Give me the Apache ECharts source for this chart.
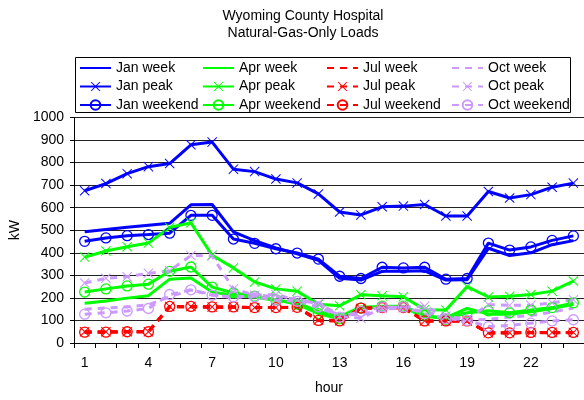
<!DOCTYPE html>
<html>
<head>
<meta charset="utf-8">
<script src="https://cdn.jsdelivr.net/npm/echarts@6/dist/echarts.min.js"></script>
<style>
html,body{margin:0;padding:0;background:#fff;}
#chart{width:584px;height:400px;}
</style>
</head>
<body>
<div id="chart"></div>
<script>
var hours = ['1','2','3','4','5','6','7','8','9','10','11','12','13','14','15','16','17','18','19','20','21','22','23','24'];

var janWeek    = [493, 503, 513, 522, 531, 613, 614, 493, 454, 422, 396, 367, 287, 279, 318, 318, 320, 279, 281, 420, 388, 400, 436, 454];
var janPeak    = [675, 707, 751, 782, 796, 879, 891, 771, 760, 727, 710, 661, 581, 568, 604, 607, 614, 563, 563, 672, 643, 658, 691, 709];
var janWeekend = [451, 466, 476, 481, 487, 566, 566, 461, 442, 418, 399, 372, 296, 286, 336, 333, 336, 283, 286, 443, 412, 426, 455, 475];

var aprWeek    = [176, 186, 199, 210, 283, 288, 226, 211, 204, 188, 178, 140, 117, 160, 160, 158, 116, 113, 153, 128, 128, 138, 153, 172];
var aprPeak    = [381, 408, 427, 443, 512, 533, 389, 333, 271, 240, 230, 172, 165, 214, 209, 205, 148, 146, 250, 204, 207, 215, 230, 275];
var aprWeekend = [226, 240, 253, 261, 318, 337, 248, 222, 208, 192, 172, 130, 107, 155, 163, 163, 124, 105, 134, 143, 134, 146, 157, 178];

var julWeek    = [48, 48, 50, 50, 160, 160, 158, 158, 157, 157, 157, 100, 98, 153, 157, 155, 98, 98, 98, 44, 44, 46, 46, 46];
var julPeak    = [50, 50, 50, 50, 162, 162, 160, 160, 157, 157, 160, 102, 99, 153, 157, 157, 98, 98, 98, 45, 45, 47, 47, 47];
var julWeekend = [48, 48, 50, 50, 162, 162, 160, 160, 157, 157, 158, 100, 98, 155, 157, 157, 98, 98, 98, 45, 45, 47, 47, 47];

var octWeek    = [150, 155, 160, 170, 205, 235, 215, 200, 215, 205, 195, 175, 125, 125, 150, 155, 140, 115, 100, 105, 115, 122, 137, 155];
var octPeak    = [266, 287, 294, 309, 320, 388, 386, 240, 212, 215, 190, 175, 118, 110, 155, 160, 163, 120, 105, 170, 167, 167, 178, 192];
var octWeekend = [128, 134, 142, 153, 215, 236, 212, 204, 205, 190, 185, 160, 115, 140, 160, 160, 130, 108, 100, 73, 78, 88, 98, 103];

var FONT = 'Liberation Sans, Arial, sans-serif';
var XPATH = 'path://M0,0.7 L0.7,0 L5,4.3 L9.3,0 L10,0.7 L5.7,5 L10,9.3 L9.3,10 L5,5.7 L0.7,10 L0,9.3 L4.3,5 Z';

function mk(name, data, color, kind, dashed) {
  var s = {
    name: name,
    type: 'line',
    data: data,
    animation: false,
    lineStyle: { color: color, width: 3, type: dashed ? [7, 6] : 'solid' },
    emphasis: { disabled: true }
  };
  if (kind === 'week') {
    s.symbol = 'none';
    s.showSymbol = false;
    s.itemStyle = { color: color };
  } else if (kind === 'peak') {
    s.symbol = XPATH;
    s.symbolSize = 10;
    s.itemStyle = { color: color };
  } else {
    s.symbol = 'circle';
    s.symbolSize = 10;
    s.itemStyle = { color: 'rgba(0,0,0,0)', borderColor: color, borderWidth: 1.3, borderType: 'solid' };
  }
  return s;
}

var BLUE = '#0000FF', GREEN = '#00FF00', RED = '#FF0000', LAV = '#CC99FF';

var series = [
  mk('Jan week', janWeek, BLUE, 'week', false),
  mk('Jan peak', janPeak, BLUE, 'peak', false),
  mk('Jan weekend', janWeekend, BLUE, 'weekend', false),
  mk('Apr week', aprWeek, GREEN, 'week', false),
  mk('Apr peak', aprPeak, GREEN, 'peak', false),
  mk('Apr weekend', aprWeekend, GREEN, 'weekend', false),
  mk('Jul week', julWeek, RED, 'week', true),
  mk('Jul peak', julPeak, RED, 'peak', true),
  mk('Jul weekend', julWeekend, RED, 'weekend', true),
  mk('Oct week', octWeek, LAV, 'week', true),
  mk('Oct peak', octPeak, LAV, 'peak', true),
  mk('Oct weekend', octWeekend, LAV, 'weekend', true)
];

function legendCol(left, names) {
  return {
    orient: 'vertical',
    left: left,
    top: 61,
    padding: 0,
    itemGap: 4.5,
    itemWidth: 31,
    itemHeight: 12,
    selectedMode: false,
    data: [
      { name: names[0], itemStyle: { opacity: 0 } },
      { name: names[1] },
      { name: names[2] }
    ],
    textStyle: { fontFamily: FONT, fontSize: 14, color: '#000' }
  };
}

var chart = echarts.init(document.getElementById('chart'), null, { renderer: 'canvas' });
chart.setOption({
  backgroundColor: '#fff',
  animation: false,
  graphic: [
    { type: 'text', style: { x: 303, y: 16, text: 'Wyoming County Hospital', textAlign: 'center', textVerticalAlign: 'middle', font: '14px ' + FONT, fill: '#000' } },
    { type: 'text', style: { x: 303, y: 33, text: 'Natural-Gas-Only Loads', textAlign: 'center', textVerticalAlign: 'middle', font: '14px ' + FONT, fill: '#000' } },
    { type: 'rect', shape: { x: 75.5, y: 57.5, width: 495, height: 55 }, style: { fill: 'none', stroke: '#000', lineWidth: 1 }, z: 100 }
  ],
  legend: [
    legendCol(79, ['Jan week', 'Jan peak', 'Jan weekend']),
    legendCol(202, ['Apr week', 'Apr peak', 'Apr weekend']),
    legendCol(326, ['Jul week', 'Jul peak', 'Jul weekend']),
    legendCol(451, ['Oct week', 'Oct peak', 'Oct weekend'])
  ],
  grid: { left: 73, top: 117.5, width: 511, height: 230, containLabel: false },
  xAxis: {
    type: 'category',
    data: hours,
    boundaryGap: true,
    name: 'hour',
    nameLocation: 'middle',
    nameGap: 38,
    nameTextStyle: { fontFamily: FONT, fontSize: 14, color: '#000' },
    axisLine: { lineStyle: { color: '#000', width: 1 } },
    axisTick: { show: true, interval: 0, length: 5, lineStyle: { color: '#000' } },
    axisLabel: { interval: 2, margin: 13, fontFamily: FONT, fontSize: 14, color: '#000' },
    splitLine: { show: false }
  },
  yAxis: {
    type: 'value',
    min: 0,
    max: 1000,
    interval: 100,
    name: 'kW',
    nameLocation: 'middle',
    nameGap: 49,
    nameTextStyle: { fontFamily: FONT, fontSize: 14, color: '#000' },
    axisLine: { show: true, lineStyle: { color: '#000', width: 1 } },
    axisTick: { show: true, length: 4, lineStyle: { color: '#000' } },
    axisLabel: { margin: 10, fontFamily: FONT, fontSize: 14, color: '#000', formatter: function (v) { return String(v); } },
    splitLine: { show: true, lineStyle: { color: '#222', width: 1 } }
  },
  series: series
});
</script>
</body>
</html>
